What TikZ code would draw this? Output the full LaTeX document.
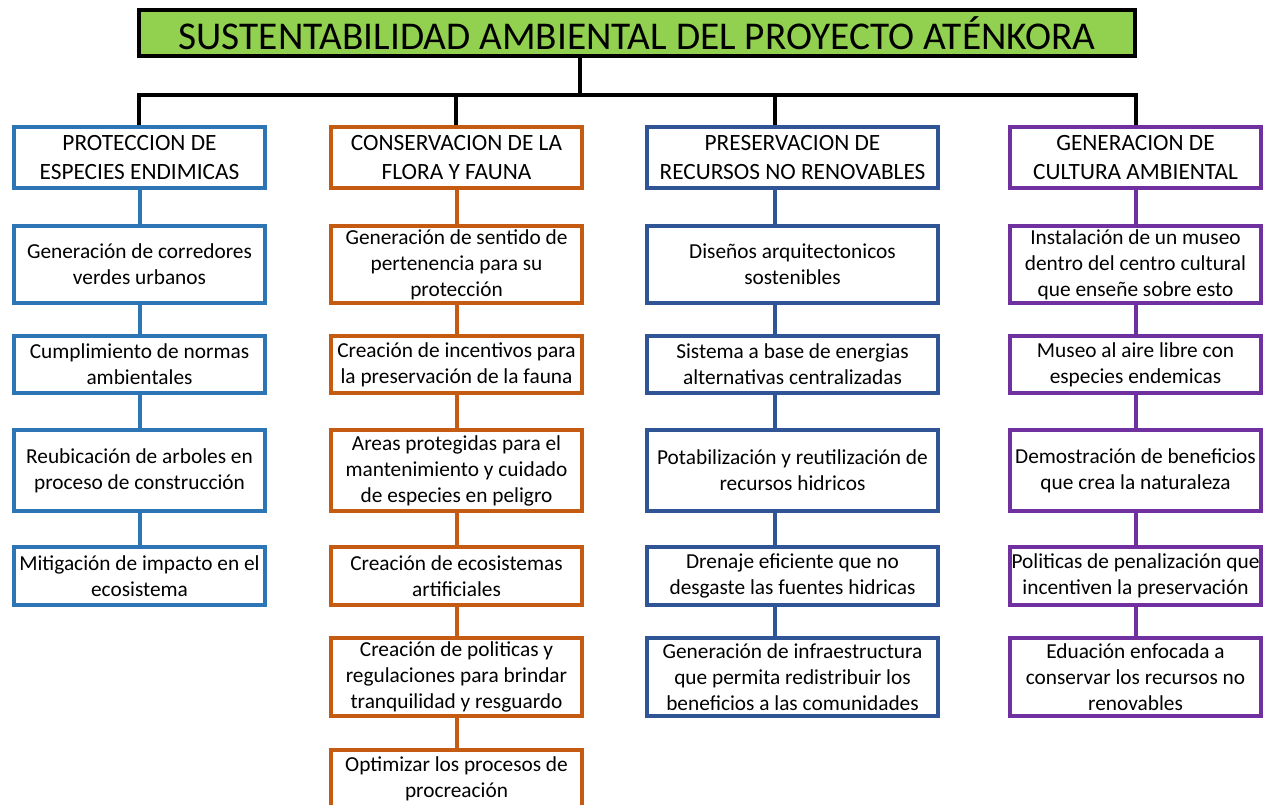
\documentclass[tikz,border=0pt]{standalone}
\usepackage{fontspec}
\setmainfont{Carlito}
\usetikzlibrary{positioning}
\definecolor{titlegreen}{HTML}{92D050}
\definecolor{protblue}{HTML}{2E75B6}
\definecolor{consorange}{HTML}{C55A11}
\definecolor{presblue}{HTML}{2F5597}
\definecolor{genpurple}{HTML}{7030A0}

\begin{document}
\begin{tikzpicture}[x=0.75pt, y=-0.75pt, rect/.style={rectangle, draw, line width=3pt, fill=white, text=black, align=center, inner xsep=0pt, inner ysep=1pt, minimum width=188.25pt, font=\fontsize{16}{19.5}\selectfont}, head/.style={rect, minimum height=45.75pt, font=\fontsize{17.5}{21.75}\selectfont}, link/.style={draw, line width=3pt}, row1/.style={minimum height=57.75pt}, row2/.style={minimum height=42.75pt}, row3/.style={minimum height=60.75pt}, row4/.style={minimum height=43.5pt}, row5/.style={minimum height=58.5pt}, row6/.style={minimum height=43.5pt}]

        \useasboundingbox (0,0) rectangle (1265,805);
        \node[draw, line width=3pt, fill=titlegreen, minimum width=747pt, minimum height=34.5pt, font=\fontsize{29.5}{32}\selectfont] (title) at (637,33) {SUSTENTABILIDAD AMBIENTAL DEL PROYECTO ATÉNKORA};

        \node[head, draw=protblue] (prot) at (139.5,157.5) {PROTECCION DE\\ESPECIES ENDIMICAS};
        \node[head, draw=consorange] (cons) at (456.5,157.5) {CONSERVACION DE LA\\FLORA Y FAUNA};
        \node[head, draw=presblue, minimum width=218.25pt] (pres) at (792.5,157.5) {PRESERVACION DE\\RECURSOS NO RENOVABLES};
        \node[head, draw=genpurple] (gen) at (1135.5,157.5) {GENERACION DE\\CULTURA AMBIENTAL};

        \coordinate (split) at (580,95);
        \coordinate (bar1) at (139,95);
        \coordinate (bar2) at (456,95);
        \coordinate (bar3) at (775,95);
        \coordinate (bar4) at (1136,95);

        \node[rect, row1, below=25.5pt of prot, draw=protblue] (prot1) {Generación de corredores\\verdes urbanos};
        \node[rect, row2, below=21.75pt of prot1, draw=protblue] (prot2) {Cumplimiento de normas\\ambientales};
        \node[rect, row3, below=24.75pt of prot2, draw=protblue] (prot3) {Reubicación de arboles en\\proceso de construcción};
        \node[rect, row4, below=24pt of prot3, draw=protblue] (prot4) {Mitigación de impacto en el\\ecosistema};

        \node[rect, row1, below=25.5pt of cons, draw=consorange] (cons1) {Generación de sentido de\\pertenencia para su\\protección};
        \node[rect, row2, below=21.75pt of cons1, draw=consorange] (cons2) {Creación de incentivos para\\la preservación de la fauna};
        \node[rect, row3, below=24.75pt of cons2, draw=consorange] (cons3) {Areas protegidas para el\\mantenimiento y cuidado\\de especies en peligro};
        \node[rect, row4, below=24pt of cons3, draw=consorange] (cons4) {Creación de ecosistemas\\artificiales};
        \node[rect, row5, below=21.75pt of cons4, draw=consorange] (cons5) {Creación de politicas y\\regulaciones para brindar\\tranquilidad y resguardo};
        \node[rect, row6, below=22.5pt of cons5, draw=consorange] (cons6) {Optimizar los procesos de\\procreación};

        \node[rect, row1, below=25.5pt of pres, draw=presblue, minimum width=218.25pt] (pres1) {Diseños arquitectonicos\\sostenibles};
        \node[rect, row2, below=21.75pt of pres1, draw=presblue, minimum width=218.25pt] (pres2) {Sistema a base de energias\\alternativas centralizadas};
        \node[rect, row3, below=24.75pt of pres2, draw=presblue, minimum width=218.25pt] (pres3) {Potabilización y reutilización de\\recursos hidricos};
        \node[rect, row4, below=24pt of pres3, draw=presblue, minimum width=218.25pt] (pres4) {Drenaje eficiente que no\\desgaste las fuentes hidricas};
        \node[rect, row5, below=21.75pt of pres4, draw=presblue, minimum width=218.25pt] (pres5) {Generación de infraestructura\\que permita redistribuir los\\beneficios a las comunidades};

        \node[rect, row1, below=25.5pt of gen, draw=genpurple] (gen1) {Instalación de un museo\\dentro del centro cultural\\que enseñe sobre esto};
        \node[rect, row2, below=21.75pt of gen1, draw=genpurple] (gen2) {Museo al aire libre con\\especies endemicas};
        \node[rect, row3, below=24.75pt of gen2, draw=genpurple] (gen3) {Demostración de beneficios\\que crea la naturaleza};
        \node[rect, row4, below=24pt of gen3, draw=genpurple] (gen4) {Politicas de penalización que\\incentiven la preservación};
        \node[rect, row5, below=21.75pt of gen4, draw=genpurple] (gen5) {Eduación enfocada a\\conservar los recursos no\\renovables};

        % tronco principal
        \path[link] (title.south -| split) -- (split);
        \path[link, line cap=rect] (bar1) -- (bar4);
        \path[link] (bar1) -- (bar1 |- prot.north);
        \path[link] (bar2) -- (bar2 |- cons.north);
        \path[link] (bar3) -- (bar3 |- pres.north);
        \path[link] (bar4) -- (bar4 |- gen.north);

        % ramas
        \path[link, color=protblue] (prot.south) -- (prot1.north);
        \path[link, color=protblue] (prot1.south) -- (prot2.north);
        \path[link, color=protblue] (prot2.south) -- (prot3.north);
        \path[link, color=protblue] (prot3.south) -- (prot4.north);

        \path[link, color=consorange] (cons.south) -- (cons1.north);
        \path[link, color=consorange] (cons1.south) -- (cons2.north);
        \path[link, color=consorange] (cons2.south) -- (cons3.north);
        \path[link, color=consorange] (cons3.south) -- (cons4.north);
        \path[link, color=consorange] (cons4.south) -- (cons5.north);
        \path[link, color=consorange] (cons5.south) -- (cons6.north);

        \path[link, color=presblue] (pres.south -| bar3) -- (pres1.north -| bar3);
        \path[link, color=presblue] (pres1.south -| bar3) -- (pres2.north -| bar3);
        \path[link, color=presblue] (pres2.south -| bar3) -- (pres3.north -| bar3);
        \path[link, color=presblue] (pres3.south -| bar3) -- (pres4.north -| bar3);
        \path[link, color=presblue] (pres4.south -| bar3) -- (pres5.north -| bar3);

        \path[link, color=genpurple] (gen.south) -- (gen1.north);
        \path[link, color=genpurple] (gen1.south) -- (gen2.north);
        \path[link, color=genpurple] (gen2.south) -- (gen3.north);
        \path[link, color=genpurple] (gen3.south) -- (gen4.north);
        \path[link, color=genpurple] (gen4.south) -- (gen5.north);
\end{tikzpicture}
\end{document}
